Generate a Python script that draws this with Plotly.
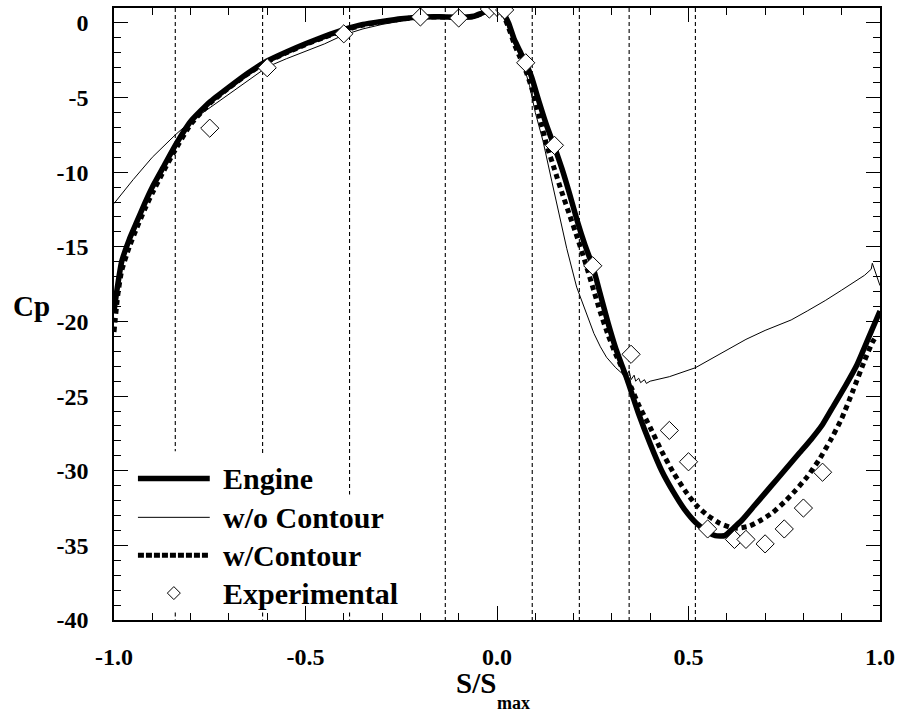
import plotly.graph_objects as go

# ---- pressure coefficient along the blade surface ----
engine_s = [-1.0, -0.99, -0.98, -0.96, -0.94, -0.92, -0.90, -0.87, -0.84, -0.80,
            -0.75, -0.70, -0.65, -0.60, -0.55, -0.50, -0.45, -0.40, -0.35, -0.30,
            -0.25, -0.20, -0.15, -0.10, -0.06, -0.04, -0.02, 0.0, 0.015, 0.03,
            0.045, 0.06, 0.075, 0.09, 0.11, 0.13, 0.15, 0.17, 0.19, 0.21,
            0.23, 0.25, 0.27, 0.29, 0.31, 0.34, 0.37, 0.40, 0.43, 0.46,
            0.49, 0.52, 0.55, 0.57, 0.595, 0.615, 0.64, 0.67, 0.70, 0.73,
            0.76, 0.79, 0.82, 0.85, 0.88, 0.91, 0.94, 0.97, 1.0]
engine_cp = [-19.3, -17.5, -16.0, -14.5, -13.3, -12.1, -11.0, -9.6, -8.2, -6.6,
             -5.3, -4.3, -3.35, -2.55, -1.95, -1.4, -0.9, -0.45, -0.1, 0.1,
             0.28, 0.4, 0.42, 0.38, 0.45, 0.65, 0.85, 0.9, 0.7, 0.0,
             -1.1, -1.9, -2.7, -3.6, -5.3, -6.9, -8.3, -9.8, -11.5, -13.3,
             -14.9, -16.3, -18.2, -20.1, -21.8, -23.9, -26.2, -28.2, -30.0, -31.4,
             -32.6, -33.5, -34.1, -34.35, -34.35, -33.9, -33.3, -32.4, -31.5, -30.6,
             -29.7, -28.8, -27.9, -26.9, -25.6, -24.3, -22.9, -21.1, -19.3]

no_contour_s = [-1.0, -0.95, -0.90, -0.84, -0.80, -0.75, -0.71, -0.65, -0.60, -0.55,
                -0.516, -0.45, -0.40, -0.35, -0.30, -0.25, -0.20, -0.15, -0.10, -0.06,
                -0.04, -0.02, 0.0, 0.015, 0.03, 0.05, 0.07, 0.085, 0.10, 0.12,
                0.143, 0.16, 0.182, 0.208, 0.232, 0.253, 0.27, 0.286, 0.31, 0.336,
                0.345, 0.35, 0.358, 0.362, 0.37, 0.375, 0.385, 0.39, 0.40, 0.45,
                0.518, 0.56, 0.612, 0.65, 0.70, 0.768, 0.81, 0.857, 0.90, 0.925,
                0.96, 0.977, 0.98, 1.0]
no_contour_cp = [-12.1, -10.5, -9.0, -7.5, -6.6, -5.7, -4.95, -3.9, -2.95, -2.4,
                 -2.05, -1.4, -0.8, -0.4, -0.1, 0.15, 0.35, 0.4, 0.37, 0.43,
                 0.62, 0.82, 0.88, 0.55, -0.4, -1.5, -2.9, -4.2, -6.0, -7.9,
                 -10.6, -12.6, -15.1, -17.7, -19.4, -20.8, -21.7, -22.4, -23.1, -23.7,
                 -23.3, -23.9, -23.6, -24.0, -23.8, -24.1, -23.9, -24.15, -24.0, -23.7,
                 -23.1, -22.5, -21.7, -21.2, -20.6, -19.9, -19.3, -18.6, -17.9, -17.5,
                 -16.9, -16.5, -16.1, -17.6]

contour_s = [-1.0, -0.99, -0.98, -0.96, -0.94, -0.92, -0.90, -0.87, -0.84, -0.80,
             -0.75, -0.70, -0.65, -0.60, -0.55, -0.50, -0.45, -0.40, -0.35, -0.30,
             -0.25, -0.20, -0.15, -0.10, -0.06, -0.04, -0.02, 0.0, 0.015, 0.03,
             0.045, 0.06, 0.075, 0.09, 0.11, 0.13, 0.15, 0.17, 0.19, 0.21,
             0.23, 0.25, 0.27, 0.29, 0.31, 0.33, 0.35, 0.37, 0.40, 0.43,
             0.46, 0.49, 0.52, 0.55, 0.58, 0.61, 0.63, 0.66, 0.69, 0.72,
             0.75, 0.78, 0.81, 0.84, 0.87, 0.90, 0.93, 0.96, 0.98, 0.99]
contour_cp = [-20.7, -18.2, -16.6, -15.0, -13.7, -12.5, -11.4, -9.9, -8.5, -6.8,
              -5.4, -4.35, -3.4, -2.6, -2.0, -1.45, -0.95, -0.5, -0.15, 0.08,
              0.25, 0.38, 0.4, 0.37, 0.43, 0.62, 0.82, 0.88, 0.6, -0.3,
              -1.4, -2.3, -3.2, -4.3, -6.2, -8.2, -9.8, -11.4, -12.9, -14.4,
              -16.0, -17.7, -19.4, -20.9, -22.2, -23.3, -24.4, -25.6, -27.1, -28.7,
              -30.1, -31.3, -32.3, -33.0, -33.5, -33.8, -33.85, -33.7, -33.3, -32.8,
              -32.1, -31.3, -30.4, -29.3, -28.0, -26.5, -24.6, -22.6, -21.4, -21.0]

exp_s = [-0.75, -0.6, -0.4, -0.2, -0.1, -0.02, 0.0, 0.02, 0.075, 0.15, 0.25,
         0.35, 0.45, 0.5, 0.55, 0.62, 0.65, 0.7, 0.75, 0.8, 0.85]
exp_cp = [-7.05, -3.0, -0.73, 0.4, 0.33, 0.93, 1.05, 0.87, -2.67, -8.2, -16.27,
          -22.2, -27.3, -29.4, -33.9, -34.6, -34.6, -34.9, -33.9, -32.5, -30.1]

# measurement stations along S/Smax
stations = [-0.84, -0.612, -0.385, -0.135, 0.092, 0.215, 0.345, 0.518]

series_names = ["Engine", "w/o Contour", "w/Contour", "Experimental"]

FONT = "Liberation Serif, Times New Roman, serif"
W, H = 901, 713
ML, MR, MT, MB = 114, 19, 6, 93
Y_TOP, Y_BOT = 1.0, -40.0

engine_line = dict(color="black", width=5.5)
thin_line = dict(color="black", width=1)
contour_line = dict(color="black", width=5, dash="5px,4px")
exp_marker = dict(symbol="diamond", size=14, color="white",
                  line=dict(color="black", width=1))

fig = go.Figure()
fig.add_trace(go.Scatter(x=engine_s, y=engine_cp, mode="lines", name=series_names[0],
                         line=dict(shape="spline", smoothing=0.5, **engine_line)))
fig.add_trace(go.Scatter(x=no_contour_s, y=no_contour_cp, mode="lines",
                         name=series_names[1], line=thin_line))
fig.add_trace(go.Scatter(x=contour_s, y=contour_cp, mode="lines", name=series_names[2],
                         line=dict(shape="spline", smoothing=0.5, **contour_line)))
fig.add_trace(go.Scatter(x=exp_s, y=exp_cp, mode="markers", name=series_names[3],
                         marker=exp_marker))

# dashed station lines; the three on the left stop above the key block
legend_clear = {-0.84: -28.7, -0.612: -29.0, -0.385: -31.6}
dash_style = dict(color="black", width=1.1, dash="4px,3px")
for s in stations:
    if s in legend_clear:
        fig.add_shape(type="line", xref="x", yref="y", x0=s, x1=s, y0=Y_TOP,
                      y1=legend_clear[s], line=dash_style, layer="below")
        fig.add_shape(type="line", xref="x", yref="y", x0=s, x1=s, y0=-39.5,
                      y1=Y_BOT, line=dash_style, layer="below")
    else:
        fig.add_shape(type="line", xref="x", yref="y", x0=s, x1=s, y0=Y_TOP,
                      y1=Y_BOT, line=dash_style, layer="below")

pw = W - ML - MR
ph = H - MT - MB


def px(xp):
    return (xp - ML) / pw


def py(yp):
    return (H - MB - yp) / ph


bold = dict(family=FONT, color="black", weight="bold")


def label(text, x, y, size, xanchor="center"):
    fig.add_annotation(text=text, x=px(x), y=py(y), xref="paper", yref="paper",
                       xanchor=xanchor, yanchor="middle", showarrow=False,
                       font=dict(size=size, **bold))


label("Cp", 31, 305, 29)
label("S/S", 477, 683, 29)
label("max", 515, 703, 18)

# key block: line samples, marker sample and names
row_y = [478, 517, 555, 593]
sample_x0, sample_x1 = 138, 210
for style, yy in zip([engine_line, thin_line, dict(contour_line, dash="6px,2px")], row_y[:3]):
    fig.add_shape(type="line", xref="paper", yref="paper", x0=px(sample_x0),
                  x1=px(sample_x1), y0=py(yy), y1=py(yy), line=style)
cx, cy, r = (sample_x0 + sample_x1) / 2, row_y[3], 6.5
fig.add_shape(type="path", xref="paper", yref="paper",
              path=(f"M{px(cx - r)},{py(cy)} L{px(cx)},{py(cy - r)} "
                    f"L{px(cx + r)},{py(cy)} L{px(cx)},{py(cy + r)} Z"),
              fillcolor="white", line=dict(color="black", width=1))
for name, yy in zip(series_names, row_y):
    label(name, 221, yy, 30, xanchor="left")

axis_common = dict(showline=True, linecolor="black", linewidth=1.5, mirror="allticks",
                   ticks="inside", ticklen=14, tickwidth=1.2, tickcolor="black",
                   showgrid=False, zeroline=False,
                   tickfont=dict(size=24, **bold))

fig.update_xaxes(range=[-1.0, 1.0], tickmode="array", tickvals=[-1.0, -0.5, 0.0, 0.5, 1.0],
                 ticktext=["-1.0", "-0.5", "0.0", "0.5", "1.0"],
                 minor=dict(dtick=0.1, tick0=0, ticks="inside", ticklen=7,
                            tickwidth=1.2, tickcolor="black"),
                 ticklabelstandoff=14, **axis_common)
fig.update_yaxes(range=[Y_BOT, Y_TOP], tickmode="array",
                 tickvals=[0, -5, -10, -15, -20, -25, -30, -35, -40],
                 ticktext=["0", "-5", "-10", "-15", "-20", "-25", "-30", "-35", "-40"],
                 minor=dict(dtick=1, tick0=0, ticks="inside", ticklen=7,
                            tickwidth=1.2, tickcolor="black"),
                 ticklabelstandoff=19, **axis_common)

fig.update_layout(
    width=W, height=H, margin=dict(l=ML, r=MR, t=MT, b=MB),
    paper_bgcolor="white", plot_bgcolor="white",
    showlegend=False,
)

fig.write_html("out.html")
